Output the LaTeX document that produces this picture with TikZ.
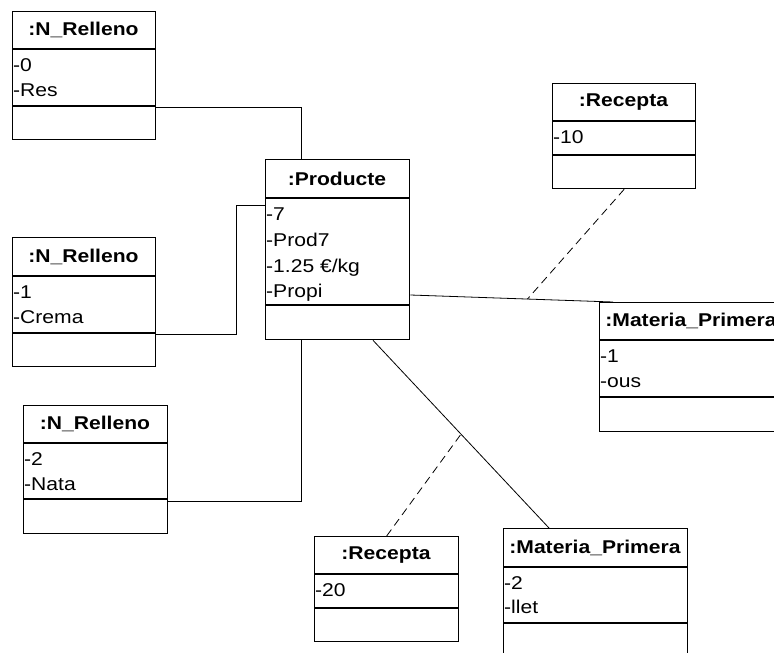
\documentclass[tikz,border=0pt]{standalone}
\usepackage{fontspec}
\setmainfont[FakeStretch=1.14]{Liberation Sans}
\usetikzlibrary{calc}
\begin{document}
\begin{tikzpicture}[x=1pt,y=-1pt,
  objbox/.style={draw,line width=1.3pt,rectangle,inner sep=0pt,anchor=north west},
  sep/.style={line width=1.3pt},
  title/.style={inner sep=0pt,font=\fontsize{18.5}{22}\selectfont\bfseries},
  attr/.style={inner sep=0pt,anchor=base west,font=\fontsize{18.5}{22}\selectfont},
  link/.style={line width=0.8pt},
  reclink/.style={line width=0.8pt,dash pattern=on 8pt off 5pt}]
\useasboundingbox (0,0) rectangle (774,653);
\clip (0,0) rectangle (774,653);

% ---- N_Relleno 0 ----
\node[objbox,minimum width=143pt,minimum height=128pt] (r0) at (12,11) {};
\draw[sep] (r0.west |- 0,49) -- (r0.east |- 0,49);
\draw[sep] (r0.west |- 0,106) -- (r0.east |- 0,106);
\node[title] (r0t) at (83.5,30) {:N\_Relleno};
\node[attr] (r0a) at (13,71.5) {-0};
\node[attr] (r0b) at (13,96.5) {-Res};

% ---- N_Relleno 1 ----
\node[objbox,minimum width=143pt,minimum height=129pt] (r1) at (12,237) {};
\draw[sep] (r1.west |- 0,276) -- (r1.east |- 0,276);
\draw[sep] (r1.west |- 0,333) -- (r1.east |- 0,333);
\node[title] (r1t) at (83.5,256.5) {:N\_Relleno};
\node[attr] (r1a) at (13,298.5) {-1};
\node[attr] (r1b) at (13,323) {-Crema};

% ---- N_Relleno 2 ----
\node[objbox,minimum width=144pt,minimum height=128pt] (r2) at (23,405) {};
\draw[sep] (r2.west |- 0,443) -- (r2.east |- 0,443);
\draw[sep] (r2.west |- 0,499) -- (r2.east |- 0,499);
\node[title] (r2t) at (95,424) {:N\_Relleno};
\node[attr] (r2a) at (24,465.5) {-2};
\node[attr] (r2b) at (24,490) {-Nata};

% ---- Producte ----
\node[objbox,minimum width=144pt,minimum height=180pt] (p) at (265,159) {};
\draw[sep] (p.west |- 0,198) -- (p.east |- 0,198);
\draw[sep] (p.west |- 0,305) -- (p.east |- 0,305);
\node[title] (pt) at (337,178.5) {:Producte};
\node[attr] (pa) at (266,220) {-7};
\node[attr] (pb) at (266,246) {-Prod7};
\node[attr] (pc) at (266,272) {-1.25 €/kg};
\node[attr] (pd) at (266,297.5) {-Propi};

% ---- Recepta 10 ----
\node[objbox,minimum width=143pt,minimum height=105pt] (rc1) at (552,83) {};
\draw[sep] (rc1.west |- 0,121) -- (rc1.east |- 0,121);
\draw[sep] (rc1.west |- 0,155) -- (rc1.east |- 0,155);
\node[title] (rc1t) at (623.5,102) {:Recepta};
\node[attr] (rc1a) at (553,143) {-10};

% ---- Materia_Primera 1 ----
\node[objbox,minimum width=184pt,minimum height=129pt] (m1) at (599,302) {};
\draw[sep] (m1.west |- 0,340) -- (m1.east |- 0,340);
\draw[sep] (m1.west |- 0,397) -- (m1.east |- 0,397);
\node[title] (m1t) at (691,321) {:Materia\_Primera};
\node[attr] (m1a) at (600,362.5) {-1};
\node[attr] (m1b) at (600,387) {-ous};

% ---- Recepta 20 ----
\node[objbox,minimum width=144pt,minimum height=105pt] (rc2) at (314,536) {};
\draw[sep] (rc2.west |- 0,574) -- (rc2.east |- 0,574);
\draw[sep] (rc2.west |- 0,608) -- (rc2.east |- 0,608);
\node[title] (rc2t) at (386,555) {:Recepta};
\node[attr] (rc2a) at (315,596.5) {-20};

% ---- Materia_Primera 2 ----
\node[objbox,minimum width=184pt,minimum height=130pt] (m2) at (503,528) {};
\draw[sep] (m2.west |- 0,567) -- (m2.east |- 0,567);
\draw[sep] (m2.west |- 0,623) -- (m2.east |- 0,623);
\node[title] (m2t) at (595,547.5) {:Materia\_Primera};
\node[attr] (m2a) at (504,589) {-2};
\node[attr] (m2b) at (504,613.5) {-llet};

% ---- links between objects ----
\draw[link] (r0.east |- 0,107) -| (p.north -| 301,0);
\draw[link] (p.west |- 0,205) -| (236,334) -- (r1.east |- 0,334);
\draw[link] (r2.east |- 0,501) -| (p.south -| 301,0);
\draw[link] (p.east |- 0,295) -- coordinate[pos=0.578] (j1) ($(m1.north west)+(14,0)$);
\draw[link] (p.south -| 373,0) -- coordinate[pos=0.5] (j2) (m2.north -| 549,0);

% ---- association classes (dashed) ----
\draw[reclink] (rc1.south) -- (j1);
\draw[reclink] (rc2.north) -- (j2);
\end{tikzpicture}
\end{document}
